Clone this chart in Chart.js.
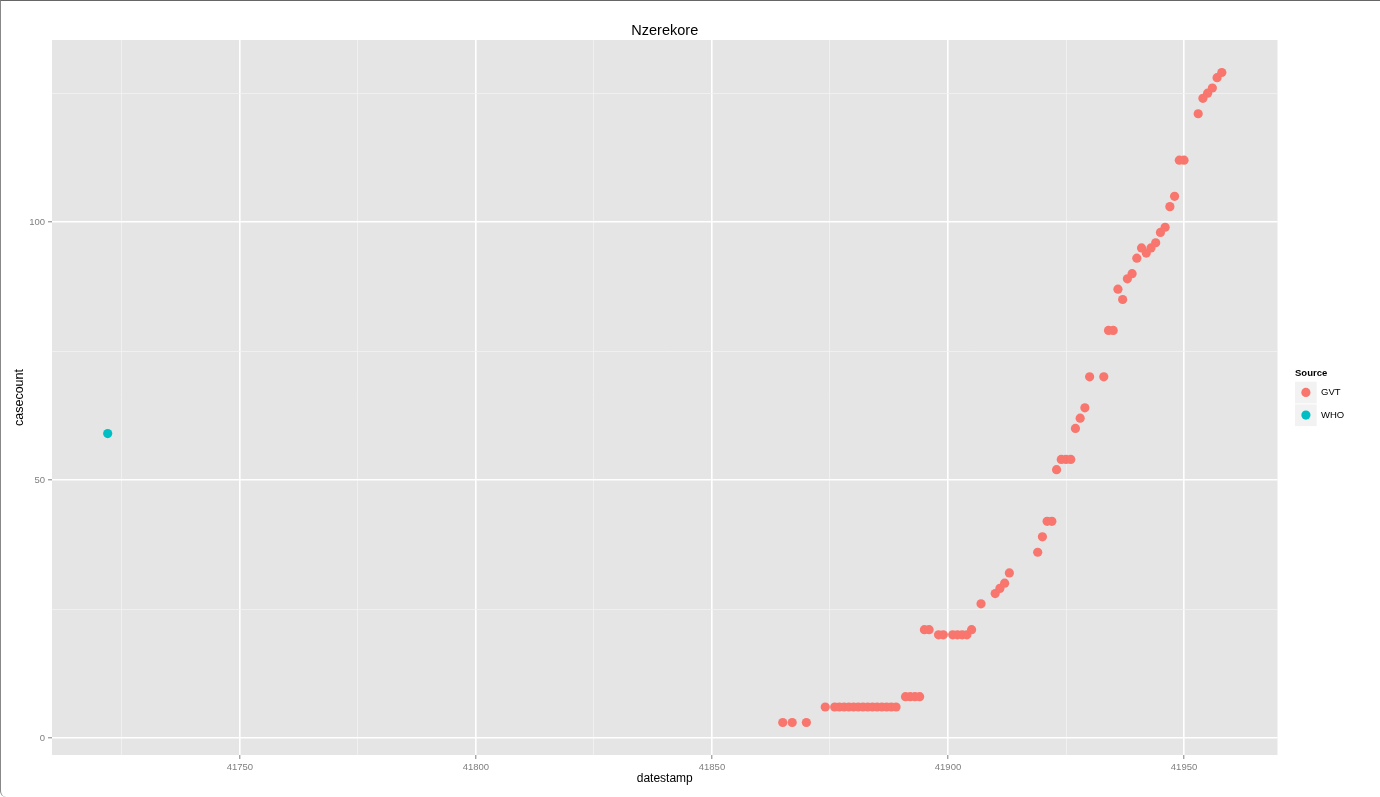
<!DOCTYPE html>
<html>
<head>
<meta charset="utf-8">
<script src="https://cdn.jsdelivr.net/npm/chart.js@4.4.1/dist/chart.umd.min.js"></script>
<style>
  html, body { margin: 0; padding: 0; background: #fff; }
  #wrap { position: relative; width: 1380px; height: 797px; }
  #frame { position: absolute; left: 0; top: 0; width: 1379px; height: 796px;
           border-top: 1px solid #666; border-left: 1px solid #888;
           border-bottom-left-radius: 6px; pointer-events: none; }
</style>
</head>
<body>
<div id="wrap">
  <canvas id="chart" width="1380" height="797"></canvas>
  <div id="frame"></div>
</div>
<script>
// data
const gvtDates = [41865, 41867, 41870, 41874,
  41876, 41877, 41878, 41879, 41880, 41881, 41882, 41883, 41884, 41885, 41886, 41887, 41888, 41889,
  41891, 41892, 41893, 41894, 41895, 41896, 41898, 41899, 41901, 41902, 41903, 41904, 41905,
  41907, 41910, 41911, 41912, 41913, 41919, 41920, 41921, 41922, 41923, 41924, 41925, 41926,
  41927, 41928, 41929, 41930, 41933, 41934, 41935, 41936, 41937, 41938, 41939, 41940, 41941,
  41942, 41943, 41944, 41945, 41946, 41947, 41948, 41949, 41950, 41953, 41954, 41955, 41956,
  41957, 41958];
const gvtCases = [3, 3, 3, 6,
  6, 6, 6, 6, 6, 6, 6, 6, 6, 6, 6, 6, 6, 6,
  8, 8, 8, 8, 21, 21, 20, 20, 20, 20, 20, 20, 21,
  26, 28, 29, 30, 32, 36, 39, 42, 42, 52, 54, 54, 54,
  60, 62, 64, 70, 70, 79, 79, 87, 85, 89, 90, 93, 95,
  94, 95, 96, 98, 99, 103, 105, 112, 112, 121, 124, 125, 126,
  128, 129];
const whoDates = [41722];
const whoCases = [59];

const sources = ['GVT', 'WHO'];
const sourceColors = ['#F8766D', '#00BFC4'];

const xTicks = [41725, 41750, 41775, 41800, 41825, 41850, 41875, 41900, 41925, 41950];
const xLabels = [41750, 41800, 41850, 41900, 41950];
const yTicks = [0, 25, 50, 75, 100, 125];
const yLabels = [0, 50, 100];

const font = '"Liberation Sans", Arial, sans-serif';
Chart.defaults.font.family = font;

function toPoints(xs, ys) {
  return xs.map((x, i) => ({ x: x, y: ys[i] }));
}

// grey panel behind the grid
const panelBg = {
  id: 'panelBg',
  beforeDraw(chart) {
    const a = chart.chartArea;
    const ctx = chart.ctx;
    ctx.save();
    ctx.fillStyle = '#e5e5e5';
    ctx.fillRect(a.left, a.top, a.right - a.left, a.bottom - a.top);
    ctx.restore();
  }
};

// ggplot style legend on the right
const sourceLegend = {
  id: 'sourceLegend',
  afterDraw(chart) {
    const a = chart.chartArea;
    const ctx = chart.ctx;
    const x0 = a.right + 17.5;
    ctx.save();
    ctx.textBaseline = 'middle';
    ctx.textAlign = 'left';
    ctx.fillStyle = '#000';
    ctx.font = 'bold 9.5px ' + font;
    ctx.fillText('Source', x0, 373);
    ctx.font = '9.5px ' + font;
    sources.forEach((name, i) => {
      const top = 381.7 + i * 22.7;
      ctx.fillStyle = '#f2f2f2';
      ctx.fillRect(x0, top, 21.7, 21.7);
      ctx.fillStyle = sourceColors[i];
      ctx.beginPath();
      ctx.arc(x0 + 10.9, top + 10.7, 4.6, 0, Math.PI * 2);
      ctx.fill();
      ctx.fillStyle = '#000';
      ctx.fillText(name, x0 + 26, top + 10.9);
    });
    ctx.restore();
  }
};

const gridColor = (labels) => (c) => (c.tick && labels.includes(c.tick.value)) ? '#ffffff' : '#f2f2f2';
const gridWidth = (labels) => (c) => (c.tick && labels.includes(c.tick.value)) ? 1.6 : 0.8;
const tickColor = (labels) => (c) => (c.tick && labels.includes(c.tick.value)) ? '#7f7f7f' : 'rgba(0,0,0,0)';

new Chart(document.getElementById('chart'), {
  type: 'scatter',
  data: {
    datasets: [{
      label: sources[0],
      data: toPoints(gvtDates, gvtCases),
      backgroundColor: sourceColors[0],
      pointRadius: 4.6,
      pointBorderWidth: 0
    }, {
      label: sources[1],
      data: toPoints(whoDates, whoCases),
      backgroundColor: sourceColors[1],
      pointRadius: 4.6,
      pointBorderWidth: 0
    }]
  },
  options: {
    responsive: false,
    animation: false,
    devicePixelRatio: 1,
    layout: { padding: { left: 0, right: 102.5, top: 0, bottom: 0 } },
    plugins: {
      legend: { display: false },
      tooltip: { enabled: false },
      title: {
        display: true,
        text: 'Nzerekore',
        fullSize: false,
        color: '#000',
        font: { size: 14.5, weight: 'normal' },
        padding: { top: 22, bottom: 0.6 }
      }
    },
    scales: {
      x: {
        type: 'linear',
        min: 41710.2,
        max: 41969.8,
        afterBuildTicks: s => { s.ticks = xTicks.map(v => ({ value: v })); },
        afterFit: s => { s.height = 42; },
        border: { display: false },
        grid: {
          color: gridColor(xLabels),
          lineWidth: gridWidth(xLabels),
          drawTicks: true,
          tickLength: 4,
          tickWidth: 1,
          tickColor: tickColor(xLabels)
        },
        ticks: {
          autoSkip: false,
          maxRotation: 0,
          padding: 3,
          color: '#7f7f7f',
          font: { size: 9.5 },
          callback: v => xLabels.includes(v) ? String(v) : ''
        },
        title: {
          display: true,
          text: 'datestamp',
          color: '#000',
          font: { size: 12 },
          padding: { top: 0, bottom: 11 }
        }
      },
      y: {
        type: 'linear',
        min: -3.3,
        max: 135.3,
        afterBuildTicks: s => { s.ticks = yTicks.map(v => ({ value: v })); },
        afterFit: s => { s.width = 52; },
        border: { display: false },
        grid: {
          color: gridColor(yLabels),
          lineWidth: gridWidth(yLabels),
          drawTicks: true,
          tickLength: 4,
          tickWidth: 1,
          tickColor: tickColor(yLabels)
        },
        ticks: {
          autoSkip: false,
          padding: 3,
          color: '#7f7f7f',
          font: { size: 9.5 },
          callback: v => yLabels.includes(v) ? String(v) : ''
        },
        title: {
          display: true,
          text: 'casecount',
          color: '#000',
          font: { size: 12.5 },
          padding: { top: 12, bottom: 0 }
        }
      }
    }
  },
  plugins: [panelBg, sourceLegend]
});
</script>
</body>
</html>
